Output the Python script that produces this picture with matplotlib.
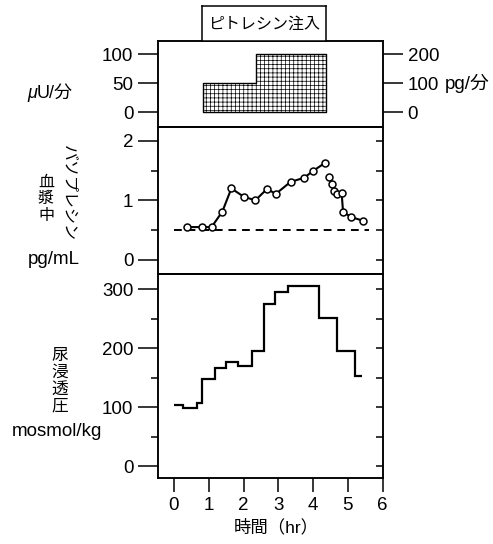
import matplotlib
matplotlib.use('Agg')
import matplotlib.pyplot as plt
from matplotlib.ticker import MultipleLocator

plt.rcParams['font.family'] = ['Liberation Sans', 'Noto Sans CJK JP']
plt.rcParams['hatch.linewidth'] = 0.5
plt.rcParams['axes.linewidth'] = 1.1

# ピトレシン注入速度 (μU/分)
infusion_t = [0.83, 2.35, 4.37]
infusion_rate = [50, 100, 100]

# 血漿中バソプレシン (pg/mL) - 2つの区間
avp_t1 = [0.38, 0.82, 1.08, 1.39, 1.65, 2.01, 2.34, 2.67, 2.93, 3.35, 3.74, 4.01, 4.34]
avp_v1 = [0.55, 0.55, 0.55, 0.81, 1.20, 1.06, 1.00, 1.19, 1.11, 1.31, 1.38, 1.50, 1.63]
avp_t2 = [4.46, 4.53, 4.60, 4.70, 4.82, 4.86, 5.08, 5.42]
avp_v2 = [1.40, 1.27, 1.16, 1.11, 1.12, 0.81, 0.72, 0.66]
baseline_avp = 0.5

# 尿浸透圧 (mosmol/kg)
osm_edges = [0, 0.27, 0.67, 0.82, 1.19, 1.51, 1.84, 2.25, 2.6, 2.89, 3.27, 4.17, 4.68, 5.19, 5.41]
osm_values = [103, 99, 107, 148, 166, 176, 170, 196, 275, 295, 305, 252, 196, 153]

W, H = 493, 544
fig = plt.figure(figsize=(W / 100, H / 100), dpi=100)

def px(x0, y0, x1, y1):
    return [x0 / W, 1 - y1 / H, (x1 - x0) / W, (y1 - y0) / H]

L, R = 158.3, 382.7
ax1 = fig.add_axes(px(L, 40.7, R, 126.7))
ax2 = fig.add_axes(px(L, 126.7, R, 274))
ax3 = fig.add_axes(px(L, 274, R, 478))

FS = 13.5
major = dict(direction='out', length=14.4, width=1.1, labelsize=FS, pad=3.5)

for ax in (ax1, ax2, ax3):
    ax.set_xlim(-0.45, 6)
for ax in (ax1, ax2):
    ax.tick_params(axis='x', bottom=False, labelbottom=False)

# 上段: 注入
ax1.fill_between(infusion_t, infusion_rate, 0, step='post', facecolor='white',
                 edgecolor='black', hatch='++++', linewidth=1.0)
ax1.set_ylim(-25, 123)
ax1.set_yticks([0, 50, 100])
ax1.tick_params(axis='y', **major)
ax1r = ax1.twinx()
ax1r.set_ylim(-50, 246)
ax1r.set_yticks([0, 100, 200])
ax1r.tick_params(axis='y', **major)

# 中段: バソプレシン
ax2.plot([0, 5.6], [baseline_avp, baseline_avp], color='black', lw=1.4, ls=(0, (4, 3)))
for t, v in ((avp_t1, avp_v1), (avp_t2, avp_v2)):
    ax2.plot(t, v, color='black', lw=1.5, marker='o', ms=5, mfc='white', mec='black', mew=1.1)
ax2.set_ylim(-0.24, 2.24)
ax2.set_yticks([0, 1, 2])
ax2.yaxis.set_minor_locator(MultipleLocator(0.5))
ax2.tick_params(axis='y', **major)
ax2.tick_params(axis='y', which='minor', direction='out', length=5, width=1.1)
ax2r = ax2.twinx()
ax2r.set_ylim(-0.24, 2.24)
ax2r.set_yticks([0, 0.5, 1, 1.5, 2])
ax2r.tick_params(axis='y', direction='in', length=5, width=1.1, labelright=False)

# 下段: 尿浸透圧
ax3.stairs(osm_values, osm_edges, baseline=None, color='black', lw=1.6)
ax3.set_ylim(-20, 326)
ax3.set_yticks([0, 100, 200, 300])
ax3.yaxis.set_minor_locator(MultipleLocator(50))
ax3.tick_params(axis='y', **major)
ax3.tick_params(axis='y', which='minor', direction='out', length=5, width=1.1)
ax3.set_xticks(range(7))
ax3.tick_params(axis='x', direction='out', length=10, width=1.1, labelsize=FS, pad=4)
ax3r = ax3.twinx()
ax3r.set_ylim(-20, 326)
ax3r.set_yticks(range(0, 301, 50))
ax3r.tick_params(axis='y', direction='in', length=5, width=1.1, labelright=False)

# タイトルの枠
axt = fig.add_axes(px(202, 6, 326, 40.7))
axt.set_xticks([])
axt.set_yticks([])
axt.text(0.5, 0.48, 'ピトレシン注入', ha='center', va='center', fontsize=11.5,
         transform=axt.transAxes)

def ftext(x, y, s, ha='center', **kw):
    fig.text(x / W, 1 - y / H, s, ha=ha, va='center', **kw)

ftext(37, 93, 'μ', ha='right', fontsize=13, style='italic')
ftext(37, 93, 'U/分', ha='left', fontsize=13)
ftext(467, 83, 'pg/分', fontsize=13.5)
ftext(46, 199, '血\n漿\n中', fontsize=11.5, linespacing=1.12)
ftext(69, 193, 'バソプレシン', fontsize=11.5, rotation=270)
ftext(54, 259, 'pg/mL', fontsize=13.5)
ftext(60, 381, '尿\n浸\n透\n圧', fontsize=12, linespacing=1.16)
ftext(57, 432, 'mosmol/kg', fontsize=13.5)
ftext(276, 527, '時間（hr）', fontsize=12.5)

fig.savefig('out.png', dpi=100)
